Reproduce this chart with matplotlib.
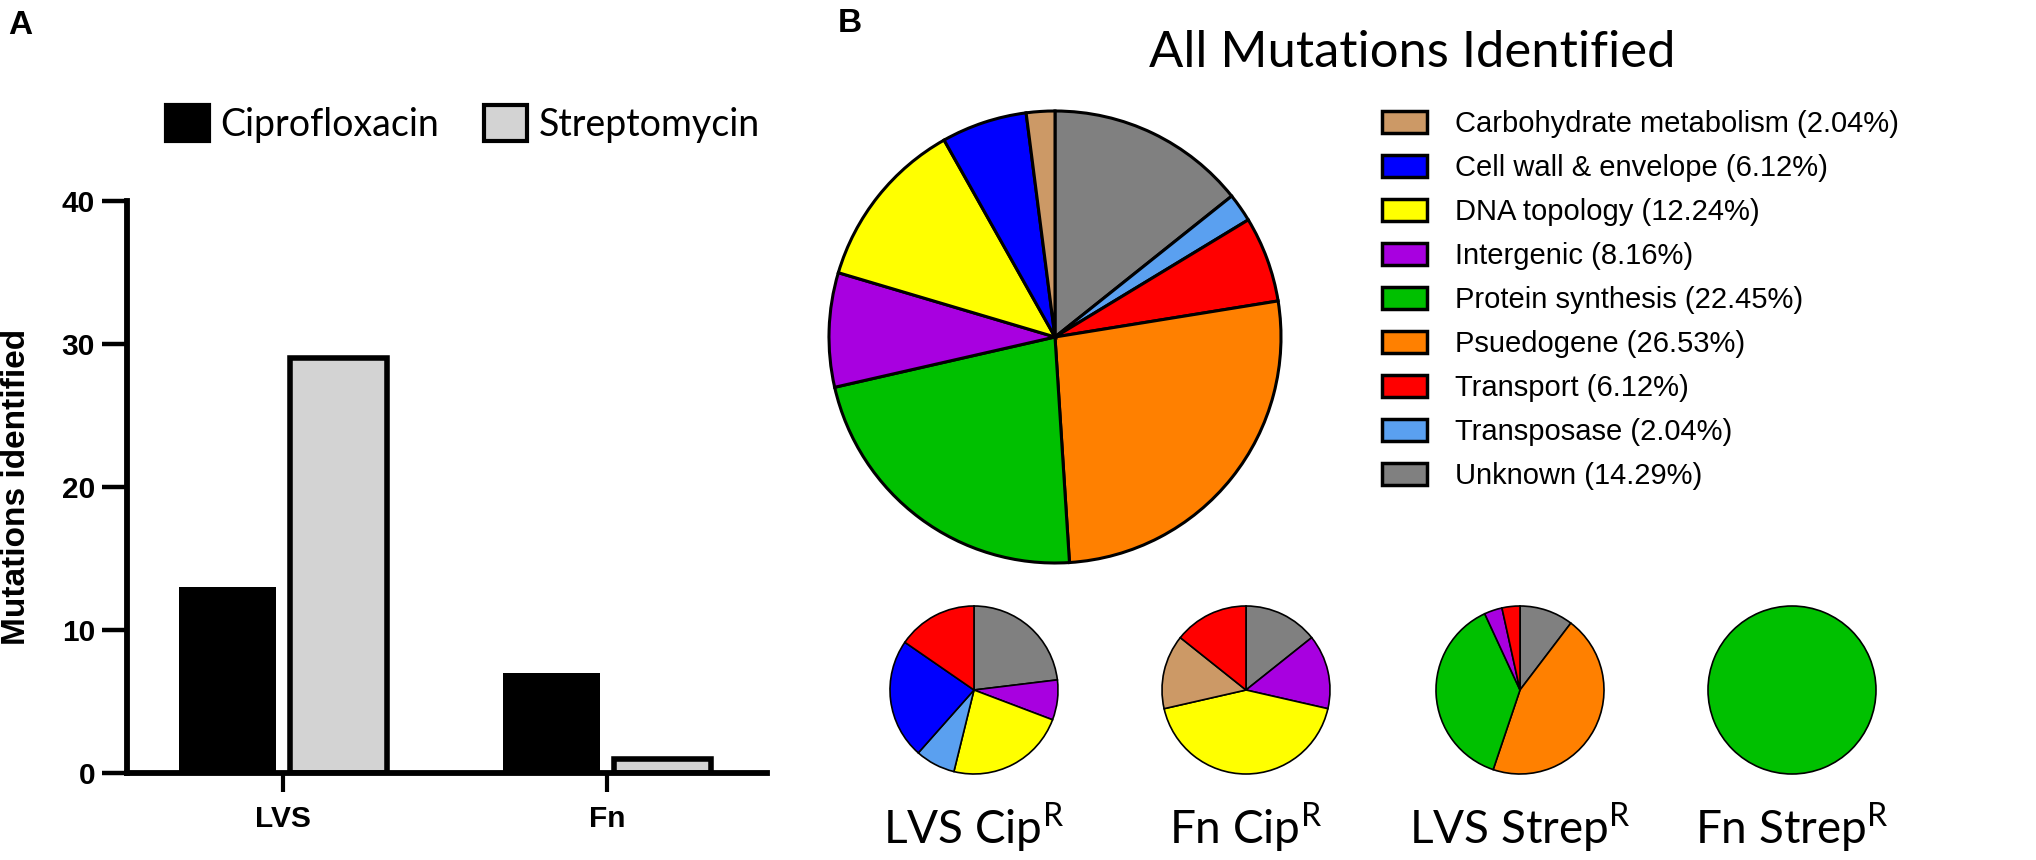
import matplotlib
matplotlib.use("Agg")
import matplotlib.pyplot as plt
from matplotlib.patches import Patch

plt.rcParams['font.family'] = ['Liberation Sans', 'DejaVu Sans']
plt.rcParams['mathtext.fontset'] = 'custom'
plt.rcParams['mathtext.rm'] = 'Lato'

FIG_W, FIG_H = 2036, 860

# panel A data
strains = ["LVS", "Fn"]
cipro = [13, 7]
strep = [29, 1]

# panel B data (legend order)
categories = ["Carbohydrate metabolism", "Cell wall & envelope", "DNA topology",
              "Intergenic", "Protein synthesis", "Psuedogene", "Transport",
              "Transposase", "Unknown"]
all_counts = [1, 3, 6, 4, 11, 13, 3, 1, 7]
cat_colors = ["#CC9966", "#0000FF", "#FFFF00", "#A800E0", "#00C000",
              "#FF8000", "#FF0000", "#5AA0F0", "#808080"]

# small pies, categories listed clockwise from 12 o'clock
lvs_cip_cats = ["Unknown", "Intergenic", "DNA topology", "Transposase",
                "Cell wall & envelope", "Transport"]
lvs_cip_counts = [3, 1, 3, 1, 3, 2]
fn_cip_cats = ["Unknown", "Intergenic", "DNA topology",
               "Carbohydrate metabolism", "Transport"]
fn_cip_counts = [1, 1, 3, 1, 1]
lvs_strep_cats = ["Unknown", "Psuedogene", "Protein synthesis", "Intergenic", "Transport"]
lvs_strep_counts = [3, 13, 11, 1, 1]
fn_strep_cats = ["Protein synthesis"]
fn_strep_counts = [1]

color_of = dict(zip(categories, cat_colors))

fig = plt.figure(figsize=(FIG_W / 100, FIG_H / 100), dpi=100)


def fx(x):
    return x / FIG_W


def fy(y):
    return 1 - y / FIG_H


# ---------------- Panel A: bar chart ----------------
ax = fig.add_axes([fx(127), fy(773), (767 - 127) / FIG_W, (773 - 201) / FIG_H])
x = list(range(len(strains)))
w = 0.30
off = 0.172
ax.bar([i - off for i in x], cipro, w, color='black', edgecolor='black', linewidth=0)
ax.bar([i + off for i in x], strep, w, color='#D3D3D3', edgecolor='black', linewidth=4)
ax.set_xlim(-0.481, 1.494)
ax.set_ylim(0, 40)
ax.set_yticks([0, 10, 20, 30, 40])
ax.set_xticks(x)
ax.set_xticklabels(strains)
for s in ['top', 'right']:
    ax.spines[s].set_visible(False)
for s in ['left', 'bottom']:
    ax.spines[s].set_linewidth(4.2)
    ax.spines[s].set_zorder(5)
ax.tick_params(axis='y', length=18, width=3.2, pad=5, labelsize=21.5)
ax.tick_params(axis='x', length=14, width=3, pad=9, labelsize=21.5)
for lab in ax.get_xticklabels() + ax.get_yticklabels():
    lab.set_fontweight('bold')
ax.set_ylabel("Mutations identified", fontsize=24, fontweight='bold')
ax.yaxis.set_label_coords(-0.148, 0.5)

ax.legend(handles=[Patch(facecolor='black', edgecolor='black', linewidth=3),
                   Patch(facecolor='#D3D3D3', edgecolor='black', linewidth=3)],
          labels=["Ciprofloxacin", "Streptomycin"],
          loc='center left', bbox_to_anchor=(fx(166), fy(124)),
          bbox_transform=fig.transFigure, ncol=2, frameon=False,
          prop={'family': ['Lato', 'DejaVu Sans'], 'size': 27},
          handlelength=1.15, handleheight=1.1, handletextpad=0.3,
          columnspacing=1.2, borderpad=0, borderaxespad=0)

fig.text(fx(20), fy(25), "A", fontsize=24, fontweight='bold', ha='center', va='center')
fig.text(fx(850), fy(24), "B", fontsize=24, fontweight='bold', ha='center', va='center')


# ---------------- Panel B: pies ----------------
def pie_axes(cx, cy, r, pad=1.04):
    wd = 2 * r * pad / FIG_W
    ht = 2 * r * pad / FIG_H
    a = fig.add_axes([fx(cx) - wd / 2, fy(cy) - ht / 2, wd, ht])
    return a


def draw_pie(a, cats, counts, lw, pad=1.04):
    a.pie(counts, colors=[color_of[c] for c in cats], startangle=90,
          counterclock=False, wedgeprops=dict(edgecolor='black', linewidth=lw))
    a.set_xlim(-pad, pad)
    a.set_ylim(-pad, pad)
    a.set_aspect('equal')
    a.axis('off')


big = pie_axes(1055, 337, 226)
draw_pie(big, categories[::-1], all_counts[::-1], 2.2)

fig.text(fx(1412), fy(53), "All Mutations Identified", fontsize=36.5,
         family=['Lato', 'DejaVu Sans'], ha='center', va='center')

total = sum(all_counts)
labels_b = [f"{c} ({n / total * 100:.2f}%)" for c, n in zip(categories, all_counts)]
handles_b = [Patch(facecolor=c, edgecolor='black', linewidth=2.5) for c in cat_colors]
fig.legend(handles=handles_b, labels=labels_b, loc='upper left',
           bbox_to_anchor=(fx(1382), fy(110)), frameon=False,
           prop={'family': ['Liberation Sans', 'DejaVu Sans'], 'size': 21},
           handlelength=1.55, handleheight=0.8, handletextpad=0.95,
           labelspacing=0.55, borderpad=0, borderaxespad=0)

small = [
    (974, lvs_cip_cats, lvs_cip_counts, "LVS Cip$^{\\mathrm{R}}$"),
    (1246, fn_cip_cats, fn_cip_counts, "Fn Cip$^{\\mathrm{R}}$"),
    (1520, lvs_strep_cats, lvs_strep_counts, "LVS Strep$^{\\mathrm{R}}$"),
    (1792, fn_strep_cats, fn_strep_counts, "Fn Strep$^{\\mathrm{R}}$"),
]
for cx, cats, counts, lab in small:
    a = pie_axes(cx, 690, 84)
    draw_pie(a, cats, counts, 1.2)
    fig.text(fx(cx), fy(828), lab, fontsize=33, family=['Lato', 'DejaVu Sans'],
             ha='center', va='center')

fig.savefig("out.png", dpi=100)
